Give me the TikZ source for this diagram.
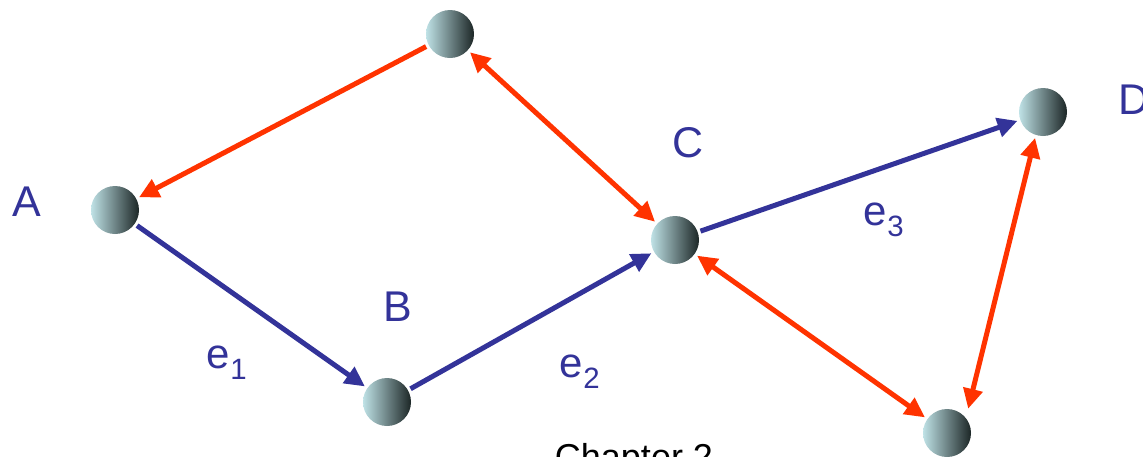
\documentclass[tikz,border=0pt]{standalone}
\usepackage{fontspec}
\setmainfont{Liberation Sans}
\usetikzlibrary{arrows.meta}
\definecolor{netred}{HTML}{FF3300}
\definecolor{netblue}{HTML}{333399}
\definecolor{ballL}{HTML}{BFE2E6}
\definecolor{ballM}{HTML}{9DBDC1}
\definecolor{ballR}{HTML}{1C2626}
\tikzset{
  ball/.style={circle, minimum size=48pt, inner sep=0pt, outer sep=3pt,
    shading=axis, left color=ballL, middle color=ballM, right color=ballR, shading angle=90},
  lbl/.style={text=netblue, font=\fontsize{43}{50}\selectfont, inner sep=0pt},
  elbl/.style={text=netblue, font=\fontsize{42}{50}\selectfont, inner sep=0pt, anchor=base},
  redarc/.style={draw=netred, line width=5pt, -{Triangle[length=20pt,width=19pt]}},
  redboth/.style={draw=netred, line width=5pt, {Triangle[length=20pt,width=19pt]}-{Triangle[length=20pt,width=19pt]}},
  bluearc/.style={draw=netblue, line width=5pt, -{Triangle[length=20pt,width=19pt]}},
}
\begin{document}
\begin{tikzpicture}[x=1pt,y=-1pt]
\useasboundingbox (0,0) rectangle (1143,456);
\node[ball] (na) at (115,210) {};
\node[ball] (nt) at (450,34) {};
\node[ball] (nb) at (387,402) {};
\node[ball] (nc) at (675,240) {};
\node[ball] (nd) at (1043,112) {};
\node[ball] (ne) at (947,433) {};
\node[lbl] (la) at (27,202) {A};
\node[lbl] (lb) at (398,307) {B};
\node[lbl] (lc) at (688,143) {C};
\node[lbl, anchor=west] (ld) at (1118,100) {D};
\node[elbl] (l1) at (227,368) {e\textsubscript{1}};
\node[elbl] (l2) at (580,377) {e\textsubscript{2}};
\node[elbl] (l3) at (884,225) {e\textsubscript{3}};
\node[anchor=base, font=\fontsize{36}{42}\selectfont, inner sep=0pt] (ch) at (634,469) {Chapter 2};
\draw[redarc] (nt) -- (na);
\draw[redboth] (nt) -- (nc);
\draw[bluearc] (na) -- (nb);
\draw[bluearc] (nb) -- (nc);
\draw[bluearc] (nc) -- (nd);
\draw[redboth] (nc) -- (ne);
\draw[redboth, shorten >=6pt] (nd.253) -- (ne.43);
\end{tikzpicture}
\end{document}
